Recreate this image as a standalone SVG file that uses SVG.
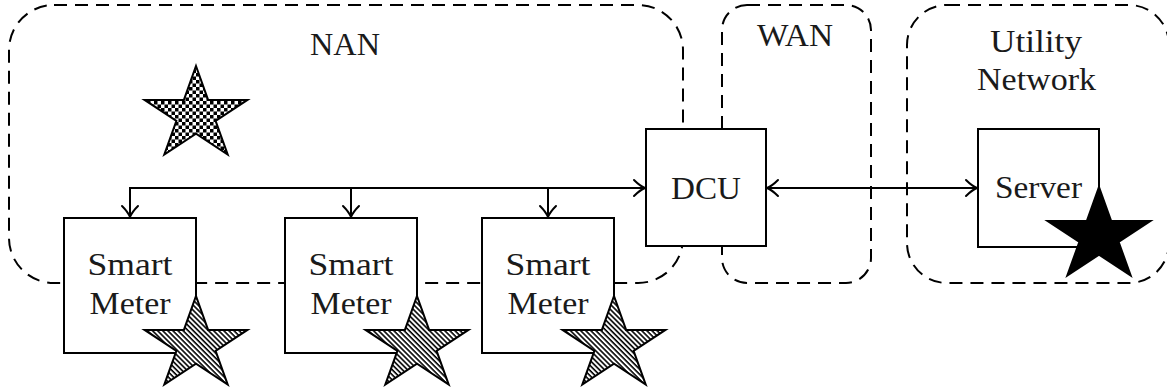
<svg xmlns="http://www.w3.org/2000/svg" xmlns:xlink="http://www.w3.org/1999/xlink" width="1167" height="392" viewBox="0 0 1167 392">
  <style>
    .region { fill: none; stroke: #000; stroke-width: 2; stroke-dasharray: 13 8; }
    .box { fill: #fff; stroke: #000; stroke-width: 2; }
    .wire { fill: none; stroke: #000; stroke-width: 2; }
    .label { font-family: "Liberation Serif", "Times New Roman", serif; font-size: 32px; fill: #1a1a1a; text-anchor: middle; }
    .star { stroke: #000; stroke-width: 2; stroke-linejoin: miter; stroke-miterlimit: 10; }
  </style>
  <defs>
    <!-- open "to"-style arrow tip -->
    <marker id="tip" markerUnits="userSpaceOnUse" markerWidth="20" markerHeight="20" viewBox="-14 -10 16 20" refX="0" refY="0" orient="auto-start-reverse">
      <path d="M-11,-8 Q-5,-2 0,0 Q-5,2 -11,8" fill="none" stroke="#000" stroke-width="2" stroke-linecap="round"/>
    </marker>
    <!-- north-west diagonal hatching -->
    <pattern id="hatch" patternUnits="userSpaceOnUse" width="3.6" height="3.6" patternTransform="rotate(-45)">
      <rect width="3.6" height="3.6" fill="#fff"/>
      <line x1="1" y1="0" x2="1" y2="3.6" stroke="#000" stroke-width="1.6"/>
    </pattern>
    <!-- checkerboard fill -->
    <pattern id="checker" patternUnits="userSpaceOnUse" width="7" height="7">
      <rect width="7" height="7" fill="#fff"/>
      <rect width="3.5" height="3.5" fill="#000"/>
      <rect x="3.5" y="3.5" width="3.5" height="3.5" fill="#000"/>
    </pattern>
    <!-- five-pointed star centred on the origin -->
    <path id="star" d="M0,-49 L12.1,-15.1 L51.4,-15.1 L19.6,5.8 L31.7,39.6 L0,18.7 L-31.7,39.6 L-19.6,5.8 L-51.4,-15.1 L-12.1,-15.1 Z"/>
  </defs>

  <!-- network zones -->
  <g id="zones">
    <g id="zone-nan">
      <rect class="region" x="9" y="5" width="674" height="278" rx="45" ry="45"/>
      <text class="label" x="345" y="55" textLength="70" lengthAdjust="spacingAndGlyphs">NAN</text>
    </g>
    <g id="zone-wan">
      <rect class="region" x="722" y="5" width="149" height="278" rx="25" ry="25"/>
      <text class="label" x="795" y="46" textLength="76" lengthAdjust="spacingAndGlyphs">WAN</text>
    </g>
    <g id="zone-utility">
      <rect class="region" x="907" y="5" width="262" height="278" rx="40" ry="40"/>
      <text class="label" x="1036" y="52" textLength="92" lengthAdjust="spacingAndGlyphs">Utility</text>
      <text class="label" x="1036.5" y="90" textLength="119" lengthAdjust="spacingAndGlyphs">Network</text>
    </g>
  </g>

  <!-- links -->
  <g id="connectors">
    <path class="wire" d="M130,217 V188 H645" marker-start="url(#tip)" marker-end="url(#tip)"/>
    <path class="wire" d="M351,188 V217" marker-end="url(#tip)"/>
    <path class="wire" d="M548,188 V217" marker-end="url(#tip)"/>
    <path class="wire" d="M767,188 H977" marker-start="url(#tip)" marker-end="url(#tip)"/>
  </g>

  <g id="smart-meter-1">
    <rect class="box" x="64" y="218" width="132" height="135"/>
    <text class="label" x="130" y="275" textLength="85" lengthAdjust="spacingAndGlyphs">Smart</text>
    <text class="label" x="130" y="314" textLength="81" lengthAdjust="spacingAndGlyphs">Meter</text>
    <use xlink:href="#star" class="star" fill="url(#hatch)" transform="translate(196,345)"/>
  </g>

  <g id="smart-meter-2">
    <rect class="box" x="285" y="218" width="132" height="135"/>
    <text class="label" x="351" y="275" textLength="85" lengthAdjust="spacingAndGlyphs">Smart</text>
    <text class="label" x="351" y="314" textLength="81" lengthAdjust="spacingAndGlyphs">Meter</text>
    <use xlink:href="#star" class="star" fill="url(#hatch)" transform="translate(417,345)"/>
  </g>

  <g id="smart-meter-3">
    <rect class="box" x="482" y="218" width="132" height="135"/>
    <text class="label" x="548" y="275" textLength="85" lengthAdjust="spacingAndGlyphs">Smart</text>
    <text class="label" x="548" y="314" textLength="81" lengthAdjust="spacingAndGlyphs">Meter</text>
    <use xlink:href="#star" class="star" fill="url(#hatch)" transform="translate(614,345)"/>
  </g>

  <g id="nan-marker">
    <use xlink:href="#star" class="star" fill="url(#checker)" transform="translate(196,115)"/>
  </g>

  <g id="dcu">
    <rect class="box" x="646" y="129" width="120" height="117"/>
    <text class="label" x="706" y="199" textLength="70" lengthAdjust="spacingAndGlyphs">DCU</text>
  </g>

  <g id="server">
    <rect class="box" x="978" y="129" width="121" height="118"/>
    <text class="label" x="1038.5" y="198" textLength="87" lengthAdjust="spacingAndGlyphs">Server</text>
    <use xlink:href="#star" class="star" fill="#000" transform="translate(1099,236)"/>
  </g>
</svg>
